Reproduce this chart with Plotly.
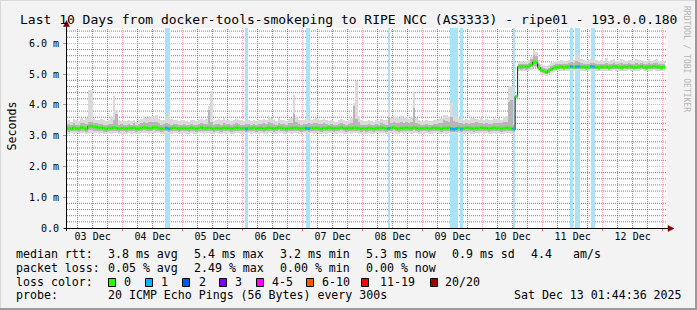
import plotly.graph_objects as go
from datetime import datetime, timedelta

# ---------------- data (hourly bins, starting 2025-12-03 00:00) ----------------
bin_origin = "2025-12-03 00:00:00"
range_start = "2025-12-03 01:44:36"
range_end = "2025-12-13 01:44:36"

median_ms = [
    # Dec 3
    3.24,3.24,3.25,3.22,3.26,3.24,3.23,3.27,3.25,3.22,3.30,3.31,3.29,3.28,3.25,3.27,3.24,3.22,3.25,3.24,3.27,3.25,3.23,3.24,
    # Dec 4
    3.24,3.23,3.25,3.24,3.26,3.22,3.24,3.25,3.27,3.26,3.24,3.25,3.28,3.27,3.25,3.23,3.24,3.25,3.22,3.24,3.26,3.25,3.23,3.24,
    # Dec 5
    3.25,3.24,3.22,3.26,3.24,3.23,3.25,3.27,3.24,3.25,3.26,3.24,3.22,3.25,3.24,3.23,3.26,3.24,3.25,3.23,3.24,3.26,3.25,3.24,
    # Dec 6
    3.24,3.22,3.25,3.24,3.26,3.23,3.24,3.25,3.22,3.24,3.26,3.25,3.23,3.24,3.27,3.25,3.24,3.22,3.25,3.24,3.26,3.25,3.24,3.23,
    # Dec 7
    3.25,3.24,3.23,3.25,3.24,3.26,3.24,3.22,3.25,3.24,3.26,3.25,3.23,3.24,3.25,3.27,3.24,3.23,3.25,3.24,3.26,3.25,3.24,3.22,
    # Dec 8
    3.24,3.23,3.25,3.24,3.22,3.25,3.24,3.26,3.25,3.23,3.24,3.25,3.27,3.24,3.23,3.25,3.24,3.26,3.25,3.24,3.27,3.25,3.23,3.24,
    # Dec 9
    3.24,3.25,3.23,3.24,3.26,3.25,3.24,3.22,3.25,3.24,3.26,3.22,3.21,3.23,3.25,3.22,3.24,3.26,3.25,3.24,3.23,3.25,3.24,3.26,
    # Dec 10
    3.24,3.25,3.23,3.24,3.26,3.24,3.25,3.23,3.24,3.26,3.25,3.24,3.22,4.28,5.25,5.24,5.25,5.24,5.26,5.30,5.40,5.38,5.22,5.13,
    # Dec 11
    5.10,5.06,5.11,5.16,5.20,5.22,5.23,5.24,5.22,5.23,5.24,5.25,5.23,5.24,5.25,5.23,5.24,5.22,5.23,5.25,5.24,5.23,5.22,5.24,
    # Dec 12
    5.23,5.24,5.22,5.23,5.25,5.24,5.23,5.22,5.24,5.23,5.25,5.24,5.22,5.23,5.24,5.25,5.23,5.22,5.24,5.23,5.25,5.24,5.23,5.22,
    # Dec 13
    5.23,
]

smoke_min = [
    3.07,3.07,3.06,3.08,3.07,3.08,3.05,3.09,3.08,3.06,3.09,3.10,3.09,3.08,3.07,3.09,3.06,3.05,3.08,3.07,3.09,3.08,3.06,3.07,
    3.07,3.06,3.08,3.07,3.09,3.05,3.07,3.08,3.10,3.09,3.07,3.08,3.10,3.09,3.08,3.06,3.07,3.08,3.05,3.07,3.09,3.08,3.06,3.07,
    3.08,3.07,3.05,3.09,3.07,3.06,3.08,3.09,3.07,3.08,3.09,3.07,3.05,3.08,3.07,3.06,3.09,3.07,3.08,3.06,3.07,3.09,3.08,3.07,
    3.07,3.05,3.08,3.07,3.09,3.06,3.07,3.08,3.05,3.07,3.09,3.08,3.06,3.07,3.10,3.08,3.07,3.05,3.08,3.07,3.09,3.08,3.07,3.06,
    3.08,3.07,3.06,3.08,3.07,3.09,3.07,3.05,3.08,3.07,3.09,3.08,3.06,3.07,3.08,3.10,3.07,3.06,3.08,3.07,3.09,3.08,3.07,3.05,
    3.07,3.06,3.08,3.07,3.05,3.08,3.07,3.09,3.08,3.06,3.07,3.08,3.10,3.07,3.06,3.08,3.07,3.09,3.08,3.07,3.10,3.08,3.06,3.07,
    3.07,3.08,3.06,3.07,3.09,3.08,3.07,3.05,3.08,3.07,3.09,3.05,3.04,3.06,3.08,3.05,3.07,3.09,3.08,3.07,3.06,3.08,3.07,3.09,
    3.07,3.08,3.06,3.07,3.09,3.07,3.08,3.06,3.07,3.09,3.08,3.07,3.05,4.24,5.10,5.09,5.10,5.09,5.11,5.15,5.22,5.22,5.10,5.02,
    4.98,4.95,4.99,5.03,5.07,5.09,5.10,5.11,5.09,5.10,5.11,5.12,5.10,5.11,5.12,5.10,5.11,5.09,5.10,5.12,5.11,5.10,5.09,5.11,
    5.10,5.11,5.09,5.10,5.12,5.11,5.10,5.09,5.11,5.10,5.12,5.11,5.09,5.10,5.11,5.12,5.10,5.09,5.11,5.10,5.12,5.11,5.10,5.09,
    5.10,
]

smoke_lo = [
    3.14,3.14,3.13,3.15,3.14,3.15,3.12,3.16,3.15,3.13,3.17,3.18,3.16,3.15,3.14,3.16,3.13,3.12,3.15,3.14,3.16,3.15,3.13,3.14,
    3.14,3.13,3.15,3.14,3.16,3.12,3.14,3.15,3.17,3.16,3.14,3.15,3.17,3.16,3.15,3.13,3.14,3.15,3.12,3.14,3.16,3.15,3.13,3.14,
    3.15,3.14,3.12,3.16,3.14,3.13,3.15,3.16,3.14,3.15,3.16,3.14,3.12,3.15,3.14,3.13,3.16,3.14,3.15,3.13,3.14,3.16,3.15,3.14,
    3.14,3.12,3.15,3.14,3.16,3.13,3.14,3.15,3.12,3.14,3.16,3.15,3.13,3.14,3.17,3.15,3.14,3.12,3.15,3.14,3.16,3.15,3.14,3.13,
    3.15,3.14,3.13,3.15,3.14,3.16,3.14,3.12,3.15,3.14,3.16,3.15,3.13,3.14,3.15,3.17,3.14,3.13,3.15,3.14,3.16,3.15,3.14,3.12,
    3.14,3.13,3.15,3.14,3.12,3.15,3.14,3.16,3.15,3.13,3.14,3.15,3.17,3.14,3.13,3.15,3.14,3.16,3.15,3.14,3.17,3.15,3.13,3.14,
    3.14,3.15,3.13,3.14,3.16,3.15,3.14,3.12,3.15,3.14,3.16,3.12,3.11,3.13,3.15,3.12,3.14,3.16,3.15,3.14,3.13,3.15,3.14,3.16,
    3.14,3.15,3.13,3.14,3.16,3.14,3.15,3.13,3.14,3.16,3.15,3.14,3.12,4.25,5.16,5.15,5.16,5.15,5.17,5.22,5.26,5.26,5.15,5.07,
    5.04,5.00,5.05,5.10,5.13,5.15,5.16,5.17,5.15,5.16,5.17,5.18,5.16,5.17,5.18,5.16,5.17,5.15,5.16,5.18,5.17,5.16,5.15,5.17,
    5.16,5.17,5.15,5.16,5.18,5.17,5.16,5.15,5.17,5.16,5.18,5.17,5.15,5.16,5.17,5.18,5.16,5.15,5.17,5.16,5.18,5.17,5.16,5.15,
    5.16,
]

smoke_hi = [
    3.36,3.36,3.38,3.34,3.40,3.36,3.35,3.42,3.40,3.37,3.45,3.46,3.42,3.40,3.37,3.39,3.36,3.35,3.38,3.37,3.50,3.70,3.36,3.37,
    3.36,3.35,3.38,3.36,3.40,3.34,3.37,3.40,3.44,3.42,3.45,3.43,3.46,3.44,3.40,3.36,3.37,3.40,3.38,3.36,3.38,3.37,3.35,3.36,
    3.37,3.36,3.35,3.38,3.36,3.35,3.38,3.40,3.37,3.38,3.84,3.45,3.35,3.38,3.37,3.36,3.40,3.37,3.38,3.36,3.37,3.40,3.38,3.36,
    3.36,3.38,3.37,3.35,3.38,3.36,3.38,3.37,3.40,3.38,3.45,3.42,3.37,3.36,3.40,3.38,3.37,3.35,3.40,3.42,3.70,3.45,3.38,3.36,
    3.37,3.38,3.40,3.38,3.40,3.42,3.38,3.37,3.40,3.38,3.36,3.38,3.36,3.35,3.38,3.40,3.37,3.36,3.38,3.40,3.95,3.55,3.45,3.36,
    3.36,3.35,3.38,3.36,3.34,3.38,3.36,3.40,3.38,3.36,3.60,3.42,3.44,3.42,3.40,3.45,3.42,3.44,3.40,3.45,3.90,3.42,3.37,3.36,
    3.36,3.38,3.36,3.35,3.38,3.37,3.40,3.42,3.50,3.48,3.45,3.60,3.48,3.45,3.42,3.40,3.38,3.40,3.37,3.40,3.42,3.44,3.42,3.40,
    3.38,3.40,3.37,3.38,3.42,3.40,3.42,3.40,3.45,3.44,4.10,4.15,3.36,4.31,5.34,5.33,5.34,5.33,5.36,5.48,5.63,5.60,5.34,5.24,
    5.20,5.16,5.21,5.26,5.30,5.32,5.33,5.34,5.32,5.33,5.36,5.38,5.36,5.42,5.40,5.35,5.34,5.32,5.33,5.35,5.36,5.34,5.32,5.34,
    5.33,5.36,5.32,5.33,5.35,5.34,5.33,5.36,5.34,5.33,5.35,5.34,5.32,5.36,5.34,5.35,5.33,5.32,5.35,5.33,5.35,5.36,5.33,5.32,
    5.33,
]

smoke_max = [
    3.48,3.48,3.50,3.46,3.55,3.50,3.48,3.58,3.52,3.56,4.47,4.47,3.55,3.50,3.52,3.54,3.50,3.47,3.52,3.60,4.28,3.84,3.50,3.48,
    3.48,3.47,3.50,3.48,3.52,3.46,3.50,3.55,3.62,3.58,3.63,3.60,3.64,3.68,3.55,3.50,3.52,3.60,3.79,3.55,3.52,3.50,3.48,3.50,
    3.50,3.48,3.46,3.52,3.50,3.47,3.52,3.55,3.50,3.54,3.97,4.44,3.48,3.52,3.55,3.50,3.56,3.52,3.50,3.48,3.52,3.55,3.52,3.50,
    3.48,3.52,3.50,3.47,3.50,3.48,3.52,3.50,3.55,3.52,3.65,3.58,3.50,3.48,3.56,3.52,3.50,3.47,3.55,3.58,4.31,3.62,3.52,3.50,
    3.50,3.55,3.52,3.50,3.55,3.56,3.52,3.50,3.54,3.52,3.48,3.50,3.48,3.46,3.52,3.54,3.50,3.48,3.52,3.56,4.07,4.77,3.63,3.50,
    3.48,3.47,3.50,3.48,3.46,3.50,3.48,3.54,3.52,3.50,3.95,3.58,3.62,3.60,3.56,3.63,3.58,3.60,3.55,3.62,4.42,3.56,3.50,3.48,
    3.48,3.50,3.48,3.47,3.50,3.50,3.55,3.58,3.68,3.68,3.62,4.11,3.66,3.62,3.58,3.55,3.52,3.55,3.50,3.56,3.58,3.55,3.52,3.58,
    3.52,3.55,3.50,3.52,3.56,3.54,3.56,3.52,3.62,3.63,4.60,4.60,3.45,4.32,5.40,5.42,5.40,5.42,5.45,5.56,5.80,5.72,5.45,5.32,
    5.30,5.25,5.30,5.36,5.40,5.42,5.43,5.45,5.42,5.44,5.47,5.50,5.45,5.69,5.60,5.48,5.45,5.43,5.46,5.50,5.48,5.45,5.42,5.46,
    5.44,5.52,5.42,5.45,5.48,5.44,5.43,5.50,5.45,5.43,5.47,5.45,5.42,5.50,5.45,5.47,5.43,5.42,5.48,5.44,5.46,5.50,5.44,5.42,
    5.44,
]

# periods with 1/20 packet loss
loss_start = ["2025-12-04 17:00", "2025-12-06 01:00", "2025-12-07 01:30", "2025-12-08 10:00",
              "2025-12-09 11:00", "2025-12-09 15:00", "2025-12-10 12:00", "2025-12-11 11:00",
              "2025-12-11 13:00", "2025-12-11 19:30"]
loss_end = ["2025-12-04 19:00", "2025-12-06 02:00", "2025-12-07 03:00", "2025-12-08 11:00",
            "2025-12-09 14:00", "2025-12-09 16:00", "2025-12-10 13:00", "2025-12-11 12:00",
            "2025-12-11 15:00", "2025-12-11 21:00"]

y_ticks = [0, 1, 2, 3, 4, 5, 6]
y_tick_text = ["0.0", "1.0 m", "2.0 m", "3.0 m", "4.0 m", "5.0 m", "6.0 m"]
y_minor_ticks = [v / 10 for v in range(2, 65, 2) if v % 10]
day_midnights = ["2025-12-%02d" % d for d in range(4, 14)]
day_noons = ["2025-12-%02d 12:00" % d for d in range(3, 13)]
day_labels = ["%02d Dec" % d for d in range(3, 13)]
six_hour_marks = ["2025-12-%02d %02d:00" % (d, h) for d in range(3, 13) for h in (6, 12, 18)]

title_text = "Last 10 Days from docker-tools-smokeping to RIPE NCC (AS3333) - ripe01 - 193.0.0.180"
stats_rtt = ["median rtt:", "3.8 ms avg", "5.4 ms max", "3.2 ms min", "5.3 ms now", "0.9 ms sd", "4.4", "am/s"]
stats_loss = ["packet loss:", "0.05 % avg", "2.49 % max", "0.00 % min", "0.00 % now"]
loss_levels = ["0", "1", "2", "3", "4-5", "6-10", "11-19", "20/20"]
loss_colors = ["#26ff00", "#00b8ff", "#0059ff", "#7e00ff", "#ff00ff", "#ff5500", "#ff0000", "#a10000"]
probe_text = "20 ICMP Echo Pings (56 Bytes) every 300s"
stamp_text = "Sat Dec 13 01:44:36 2025"

# ---------------- layout constants ----------------
W, H = 697, 310
L, R, T, B = 67, 30, 28, 82
PW, PH = W - L - R, H - T - B
Y_MAX = 6.5
FONT = "DejaVu Sans Mono"


def px(x):
    return (x - L) / PW


def py(y):
    return (T + PH - y) / PH


HOUR = timedelta(hours=1)
origin = datetime.fromisoformat(bin_origin)
n = len(median_ms)
bin_starts = [origin + i * HOUR for i in range(n)]
bin_centers = [t + HOUR / 2 for t in bin_starts]

ls = [datetime.fromisoformat(s) for s in loss_start]
le = [datetime.fromisoformat(s) for s in loss_end]
band_centers = [a + (b - a) / 2 for a, b in zip(ls, le)]
band_widths = [(b - a).total_seconds() * 1000 for a, b in zip(ls, le)]


def loss_at(t):
    return any(a <= t < b for a, b in zip(ls, le))


fig = go.Figure()

# loss background bands
fig.add_trace(go.Bar(x=band_centers, y=[Y_MAX] * len(ls), base=[0] * len(ls), width=band_widths,
                     marker=dict(color="#a8e3f8", line=dict(width=0)), hoverinfo="skip"))
# smoke
fig.add_trace(go.Bar(x=bin_centers, y=[b - a for a, b in zip(smoke_min, smoke_max)], base=smoke_min,
                     width=3600000, marker=dict(color="#dadada", line=dict(width=0)), hoverinfo="skip"))
fig.add_trace(go.Bar(x=bin_centers, y=[b - a for a, b in zip(smoke_lo, smoke_hi)], base=smoke_lo,
                     width=3600000, marker=dict(color="#b6b6b6", line=dict(width=0)), hoverinfo="skip"))
# median: thin dark step line, then loss-coloured flat segments on top
fig.add_trace(go.Scatter(x=bin_starts + [bin_starts[-1] + HOUR], y=median_ms + [median_ms[-1]],
                         mode="lines", line=dict(color="#202020", width=1, shape="hv"), hoverinfo="skip"))
for lvl_color, is_loss in ((loss_colors[0], False), (loss_colors[1], True)):
    xs, ys = [], []
    for t, m, c in zip(bin_starts, median_ms, bin_centers):
        if loss_at(c) == is_loss:
            xs += [t, t + HOUR, None]
            ys += [m, m, None]
    fig.add_trace(go.Scatter(x=xs, y=ys, mode="lines", line=dict(color=lvl_color, width=3),
                             connectgaps=False, hoverinfo="skip"))
# invisible trace holding the day-label axis
fig.add_trace(go.Scatter(x=day_noons, y=[0] * len(day_noons), xaxis="x2", mode="markers",
                         marker=dict(opacity=0), hoverinfo="skip"))

major_grid = "rgba(235,110,110,0.55)"
minor_grid = "rgba(90,90,90,0.75)"
dash = "1px,1px"

fig.update_layout(
    width=W, height=H, margin=dict(l=L, r=R, t=T, b=B, pad=0),
    paper_bgcolor="#f3f3f3", plot_bgcolor="#ffffff",
    barmode="overlay", bargap=0, showlegend=False,
    font=dict(family=FONT, size=10, color="#000000"),
    xaxis=dict(type="date", range=[range_start, range_end], tickmode="array", tickvals=day_midnights,
               showticklabels=False, showgrid=True, gridcolor=major_grid, griddash=dash, gridwidth=1,
               ticks="outside", ticklen=2, tickcolor="#e58080", showline=False, zeroline=False),
    xaxis2=dict(type="date", overlaying="x", matches="x", anchor="y", side="bottom",
                tickmode="array", tickvals=day_noons, ticktext=day_labels, showgrid=False,
                ticks="", showline=False, zeroline=False, ticklabelstandoff=1,
                tickfont=dict(family=FONT, size=10, color="#000000")),
    yaxis=dict(range=[0, Y_MAX], tickmode="array", tickvals=y_ticks, ticktext=y_tick_text,
               showgrid=True, gridcolor=major_grid, griddash=dash, gridwidth=1, zeroline=False,
               showline=False, ticks="outside", ticklen=3, tickcolor="#e58080", ticklabelstandoff=2,
               tickfont=dict(family=FONT, size=10, color="#000000")),
)

shapes = []
# minor grid (6 h / 0.2 ms), drawn beneath the data
for t in six_hour_marks:
    shapes.append(dict(type="line", xref="x", yref="paper", x0=t, x1=t, y0=0, y1=1, layer="below",
                       line=dict(color=minor_grid, width=1, dash=dash)))
for v in y_minor_ticks:
    shapes.append(dict(type="line", xref="paper", yref="y", x0=0, x1=1, y0=v, y1=v, layer="below",
                       line=dict(color=minor_grid, width=1, dash=dash)))
# frame shading
shapes.append(dict(type="line", xref="paper", yref="paper", x0=px(0), x1=px(W), y0=py(0.5), y1=py(0.5),
                   line=dict(color="#d8d8d8", width=1)))
shapes.append(dict(type="line", xref="paper", yref="paper", x0=px(0.5), x1=px(0.5), y0=py(0), y1=py(H),
                   line=dict(color="#d8d8d8", width=1)))
shapes.append(dict(type="line", xref="paper", yref="paper", x0=px(0), x1=px(W), y0=py(H - 1), y1=py(H - 1),
                   line=dict(color="#9a9a9a", width=2)))
shapes.append(dict(type="line", xref="paper", yref="paper", x0=px(W - 1), x1=px(W - 1), y0=py(0), y1=py(H),
                   line=dict(color="#9a9a9a", width=2)))
# axes with arrows
shapes.append(dict(type="line", xref="paper", yref="paper", x0=px(64), x1=px(669), y0=py(228.5), y1=py(228.5),
                   line=dict(color="#000000", width=1), layer="above"))
shapes.append(dict(type="line", xref="paper", yref="paper", x0=px(66.5), x1=px(66.5), y0=py(231), y1=py(25),
                   line=dict(color="#000000", width=1), layer="above"))
shapes.append(dict(type="path", xref="paper", yref="paper",
                   path="M %f,%f L %f,%f L %f,%f Z" % (px(63.5), py(26.5), px(69.5), py(26.5), px(66.5), py(20.5)),
                   fillcolor="#7f0000", line=dict(color="#7f0000", width=0.5), layer="above"))
shapes.append(dict(type="path", xref="paper", yref="paper",
                   path="M %f,%f L %f,%f L %f,%f Z" % (px(668), py(225.5), px(668), py(231.5), px(674), py(228.5)),
                   fillcolor="#7f0000", line=dict(color="#7f0000", width=0.5), layer="above"))

annotations = []


def text(x, y, s, size=11.6, anchor="left", color="#000000", angle=0):
    annotations.append(dict(xref="paper", yref="paper", x=px(x), y=py(y), text=s, showarrow=False,
                            xanchor=anchor, yanchor="middle", borderpad=0, textangle=angle,
                            font=dict(family=FONT, size=size, color=color)))


text(348.3, 19.5, title_text, size=13, anchor="center")
text(11, 126.5, "Seconds", size=11.6, anchor="center", angle=-90)
text(687, 59, "RRDTOOL / TOBI OETIKER", size=8, anchor="center", color="#b4b4b4", angle=90)

row_y = [254.3, 268.0, 281.7, 295.4]
rtt_x = [15.3, 106.6, 192.6, 278.6, 364.8, 451.0, 529.8, 572.0]
for x, s in zip(rtt_x, stats_rtt):
    text(x, row_y[0], s)
loss_x = [15.3, 106.6, 192.6, 278.6, 364.8]
for x, s in zip(loss_x, stats_loss):
    text(x, row_y[1], s)
text(15.3, row_y[2], "loss color:")
box_x = [108.5, 145.5, 182.5, 219.5, 256.5, 306.5, 361.5, 430.5]
lab_x = [122.6, 160.0, 197.6, 234.3, 271.0, 321.0, 379.3, 444.3]
for bx, lx, lvl, col in zip(box_x, lab_x, loss_levels, loss_colors):
    shapes.append(dict(type="rect", xref="paper", yref="paper", x0=px(bx), x1=px(bx + 7),
                       y0=py(278.5), y1=py(286.5), fillcolor=col, line=dict(color="#000000", width=1)))
    text(lx, row_y[2], lvl)
text(15.3, row_y[3], "probe:")
text(106.6, row_y[3], probe_text)
text(512.6, row_y[3], stamp_text)

fig.update_layout(shapes=shapes, annotations=annotations)
fig.write_html("out.html", config={"displayModeBar": False})
